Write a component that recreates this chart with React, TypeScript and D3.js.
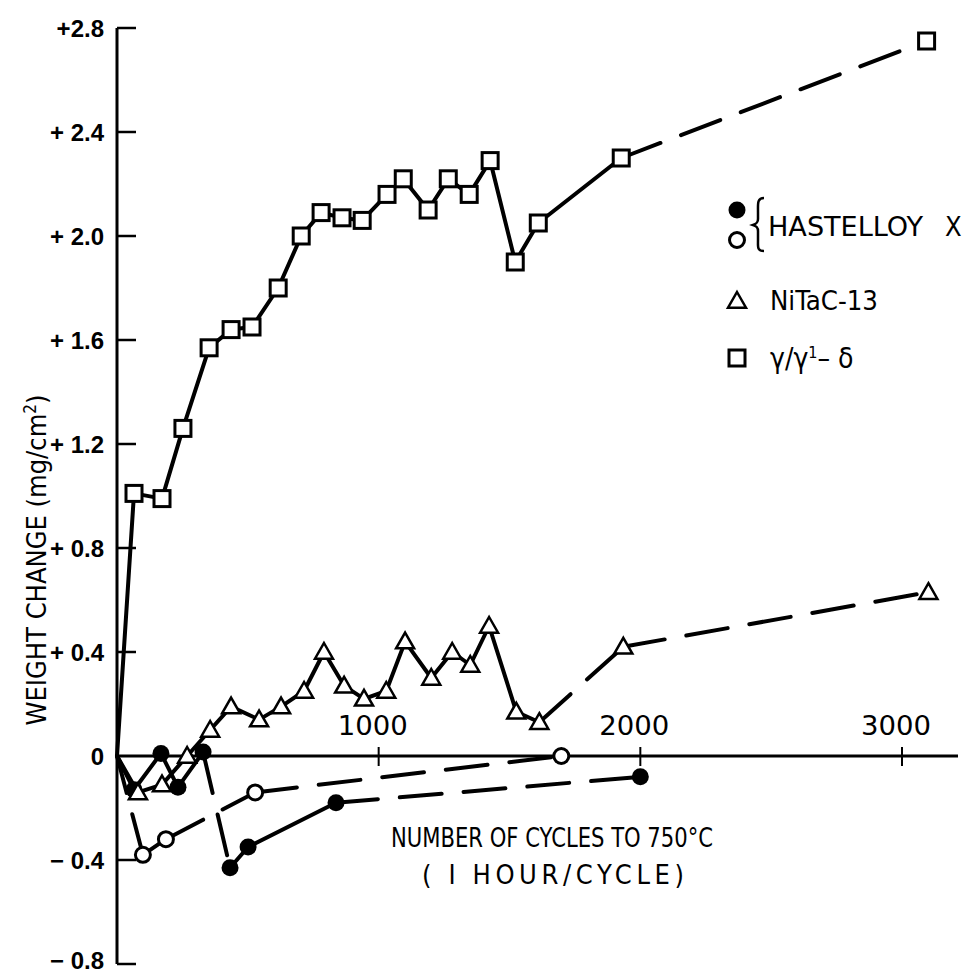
import React, { useEffect, useRef } from "react";
import * as d3 from "d3";

// cycles (x) and weight change mg/cm2 (y)
const squareX = [0, 65, 172, 252, 352, 436, 516, 616, 704, 780, 860, 937, 1032, 1094, 1189, 1266, 1346, 1426, 1522, 1610, 1927, 3094];
const squareY = [0, 1.01, 0.99, 1.26, 1.57, 1.64, 1.65, 1.8, 2.0, 2.09, 2.07, 2.06, 2.16, 2.22, 2.1, 2.22, 2.16, 2.29, 1.9, 2.05, 2.3, 2.75];
// one letter per segment: s = solid, d = dashed, r = dashed from the far end
const squareSeg = "ssssssssssssssssssssd";

const triX = [0, 80, 172, 268, 356, 436, 543, 627, 715, 791, 868, 944, 1029, 1101, 1201, 1281, 1350, 1422, 1526, 1614, 1935, 3101];
const triY = [0, -0.14, -0.11, 0.0, 0.1, 0.19, 0.14, 0.19, 0.25, 0.4, 0.27, 0.22, 0.25, 0.44, 0.3, 0.4, 0.35, 0.5, 0.17, 0.13, 0.42, 0.63];
const triSeg = "sssssssssssssssssssdd";

const hxFilledX = [0, 65, 168, 233, 329, 432, 501, 837, 2000];
const hxFilledY = [0, -0.13, 0.01, -0.12, 0.015, -0.43, -0.35, -0.18, -0.08];
const hxFilledSeg = "ssssdssd";

const hxOpenX = [0, 99, 187, 528, 1698];
const hxOpenY = [0, -0.38, -0.32, -0.14, 0.0];
const hxOpenSeg = "rsdd";

const yTicks = [2.8, 2.4, 2.0, 1.6, 1.2, 0.8, 0.4, 0, -0.4, -0.8];
const yTickLabels = ["+2.8", "+ 2.4", "+ 2.0", "+ 1.6", "+ 1.2", "+ 0.8", "+ 0.4", "0", "\u2212 0.4", "\u2212 0.8"];
const xTicks = [1000, 2000, 3000];

const INK = "#000";
const NARROW = "'Liberation Sans Narrow', 'DejaVu Sans Condensed', 'Arial Narrow', sans-serif";

type Sel = d3.Selection<SVGGElement, unknown, null, undefined>;

const DrawMarker = (svg: Sel, kind: string, cx: number, cy: number) => {
  if (kind === "square") {
    svg.append("rect")
      .attr("x", cx - 8).attr("y", cy - 8)
      .attr("width", 16).attr("height", 16)
      .style("fill", "white").style("stroke", INK).style("stroke-width", 3);
  } else if (kind === "triangle") {
    const s = 9;
    svg.append("path")
      .attr("d", `M${cx},${cy - s} L${cx + s},${cy + s * 0.75} L${cx - s},${cy + s * 0.75} Z`)
      .style("fill", "white").style("stroke", INK).style("stroke-width", 2.5);
  } else if (kind === "filled") {
    svg.append("circle").attr("cx", cx).attr("cy", cy).attr("r", 8.5)
      .style("fill", INK);
  } else {
    svg.append("circle").attr("cx", cx).attr("cy", cy).attr("r", 7.5)
      .style("fill", "white").style("stroke", INK).style("stroke-width", 3);
  }
};

const DrawSeries = (
  svg: Sel, xs: number[], ys: number[], seg: string, kind: string,
  x: d3.ScaleLinear<number, number>, y: d3.ScaleLinear<number, number>, width: number
) => {
  for (let i = 0; i < xs.length - 1; i++) {
    const rev = seg[i] === "r";
    const a = rev ? i + 1 : i;
    const b = rev ? i : i + 1;
    const line = svg.append("line")
      .attr("x1", x(xs[a])).attr("y1", y(ys[a]))
      .attr("x2", x(xs[b])).attr("y2", y(ys[b]))
      .style("stroke", INK).style("stroke-width", width)
      .style("stroke-linecap", "round");
    if (seg[i] !== "s") line.style("stroke-dasharray", "42 22");
  }
  // origin point carries no marker
  for (let i = 1; i < xs.length; i++) DrawMarker(svg, kind, x(xs[i]), y(ys[i]));
};

const App = () => {
  const svgRef = useRef<SVGSVGElement | null>(null);
  const width = 962;
  const height = 975;

  useEffect(() => {
    const root = d3.select(svgRef.current);
    root.selectAll("*").remove();
    const svg = root.append("g") as unknown as Sel;

    const x = d3.scaleLinear().domain([0, 3000]).range([117, 902]);
    const y = d3.scaleLinear().domain([-0.8, 2.8]).range([964, 28]);

    // y axis
    svg.append("line")
      .attr("x1", x(0)).attr("y1", y(2.8)).attr("x2", x(0)).attr("y2", y(-0.8))
      .style("stroke", INK).style("stroke-width", 3);
    yTicks.forEach((t, i) => {
      if (t !== 0) {
        svg.append("line")
          .attr("x1", x(0)).attr("y1", y(t)).attr("x2", x(0) + 19).attr("y2", y(t))
          .style("stroke", INK).style("stroke-width", 2.5);
      }
      svg.append("text")
        .attr("x", 104).attr("y", Math.min(y(t) + 9, 969))
        .attr("text-anchor", "end")
        .style("font-family", "'Liberation Sans', Arial, sans-serif")
        .style("font-weight", "bold")
        .style("font-size", "24px")
        .text(yTickLabels[i]);
    });

    // x axis
    svg.append("line")
      .attr("x1", x(0)).attr("y1", y(0)).attr("x2", 958).attr("y2", y(0))
      .style("stroke", INK).style("stroke-width", 3);
    xTicks.forEach(t => {
      svg.append("line")
        .attr("x1", x(t)).attr("y1", y(0) - 9).attr("x2", x(t)).attr("y2", y(0) + 10)
        .style("stroke", INK).style("stroke-width", 2);
      svg.append("text")
        .attr("x", x(t) - 6).attr("y", y(0) - 21)
        .attr("text-anchor", "middle")
        .style("font-family", "'DejaVu Sans Condensed', sans-serif")
        .style("font-size", "27px")
        .attr("textLength", 70).attr("lengthAdjust", "spacingAndGlyphs")
        .text(String(t));
    });

    // series
    DrawSeries(svg, hxOpenX, hxOpenY, hxOpenSeg, "open", x, y, 4);
    DrawSeries(svg, hxFilledX, hxFilledY, hxFilledSeg, "filled", x, y, 4);
    DrawSeries(svg, triX, triY, triSeg, "triangle", x, y, 4);
    DrawSeries(svg, squareX, squareY, squareSeg, "square", x, y, 4);

    // axis titles
    svg.append("text")
      .attr("x", 552).attr("y", 847)
      .attr("text-anchor", "middle")
      .style("font-family", NARROW).style("font-size", "27px")
      .attr("textLength", 322).attr("lengthAdjust", "spacingAndGlyphs")
      .text("NUMBER OF CYCLES TO 750\u00B0C");
    svg.append("text")
      .attr("x", 553).attr("y", 884)
      .attr("text-anchor", "middle")
      .style("font-family", NARROW).style("font-size", "27px")
      .attr("textLength", 262).attr("lengthAdjust", "spacing")
      .text("( I HOUR/CYCLE)");

    const yl = svg.append("text")
      .attr("transform", "translate(46,560) rotate(-90)")
      .attr("text-anchor", "middle")
      .style("font-family", NARROW).style("font-size", "27px");
    yl.append("tspan").text("WEIGHT  CHANGE  (mg/cm");
    yl.append("tspan").attr("dy", -10).style("font-size", "17px").text("2");
    yl.append("tspan").attr("dy", 10).text(")");

    // legend
    DrawMarker(svg, "filled", 737, 210);
    DrawMarker(svg, "open", 737, 240);
    svg.append("path")
      .attr("d", "M764,198 C757,198 758,204 758,212 L758,219 C758,223 756,224 753,225 C756,226 758,227 758,231 L758,240 C758,247 757,251 764,251")
      .style("fill", "none").style("stroke", INK).style("stroke-width", 2.5);
    svg.append("text").attr("x", 768).attr("y", 236)
      .style("font-family", NARROW).style("font-size", "27px")
      .attr("textLength", 155).attr("lengthAdjust", "spacingAndGlyphs")
      .text("HASTELLOY");
    svg.append("text").attr("x", 945).attr("y", 236)
      .style("font-family", NARROW).style("font-size", "27px")
      .text("X");

    DrawMarker(svg, "triangle", 737, 301);
    svg.append("text").attr("x", 770).attr("y", 310)
      .style("font-family", NARROW).style("font-size", "27px")
      .attr("textLength", 108).attr("lengthAdjust", "spacingAndGlyphs")
      .text("NiTaC-13");

    DrawMarker(svg, "square", 737, 358);
    const g = svg.append("text").attr("x", 770).attr("y", 368)
      .style("font-family", NARROW).style("font-size", "28px");
    g.append("tspan").text("\u03B3/\u03B3");
    g.append("tspan").attr("dy", -10).style("font-size", "16px").text("1");
    g.append("tspan").attr("dy", 10).text("\u2013 \u03B4");
  }, []);

  return (
    <svg ref={svgRef} width={width} height={height}
      style={{ position: "absolute", left: 0, top: 0, background: "white" }} />
  );
};

export default App;
